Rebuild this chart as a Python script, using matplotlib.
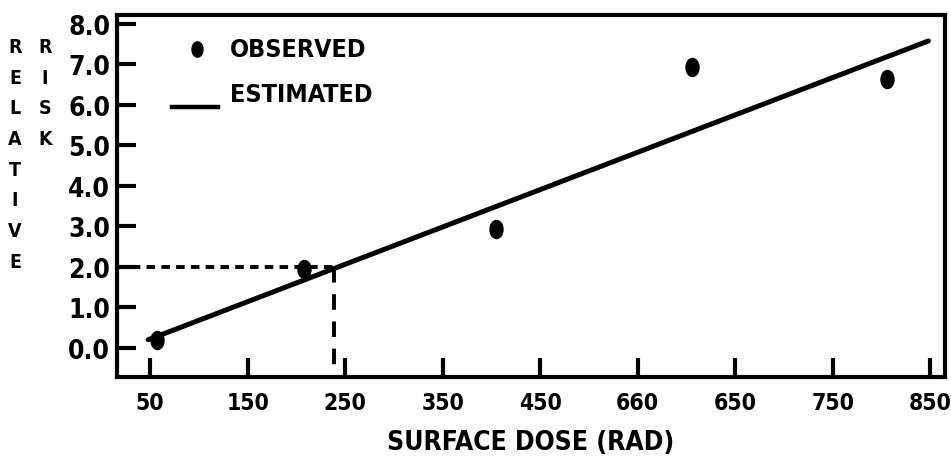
import matplotlib
matplotlib.use("Agg")
import matplotlib.pyplot as plt
from matplotlib.path import Path
from matplotlib.transforms import Affine2D

# Data
dose_obs = [57, 208, 405, 606, 806]
risk_obs = [0.2, 1.95, 2.94, 6.94, 6.64]
dose_fit = [48, 848]
risk_fit = [0.2, 7.58]
ref_dose = 239
ref_risk = 2.0
xticks = [50, 150, 250, 350, 450, 550, 650, 750, 850]
xticklabels = ["50", "150", "250", "350", "450", "660", "650", "750", "850"]
yticks = [0, 1, 2, 3, 4, 5, 6, 7, 8]
yticklabels = ["0.0", "1.0", "2.0", "3.0", "4.0", "5.0", "6.0", "7.0", "8.0"]

plt.rcParams['font.family'] = ["DejaVu Sans", "Liberation Sans"]
plt.rcParams['font.weight'] = 'bold'
plt.rcParams['font.stretch'] = 'condensed'

fig = plt.figure(figsize=(9.51, 4.64), dpi=100)
W, H = 951, 464
ax = fig.add_axes([117 / W, (H - 378) / H, (945 - 117) / W, (378 - 16) / H])

xmin, xmax = 16, 865
ymin, ymax = -0.72, 8.22
ax.set_xlim(xmin, xmax)
ax.set_ylim(ymin, ymax)

marker = Path.unit_circle().transformed(Affine2D().scale(0.72, 1.0))

ax.plot(dose_fit, risk_fit, color="black", lw=3.6, solid_capstyle="round")
ax.plot(dose_obs, risk_obs, linestyle="none", marker=marker, markersize=13,
        color="black")
# reference dashed lines
ax.plot([xmin, ref_dose], [ref_risk, ref_risk], color="black", lw=2.8,
        dashes=(2.2, 1.6))
ax.plot([ref_dose, ref_dose], [ref_risk, ymin], color="black", lw=2.8,
        dashes=(4, 3))

for s in ax.spines.values():
    s.set_linewidth(3)
ax.set_xticks(xticks)
ax.set_xticklabels(xticklabels)
ax.set_yticks(yticks)
ax.set_yticklabels(yticklabels)
ax.tick_params(direction="in", length=14, width=3, labelsize=19, pad=5)
ax.tick_params(axis="x", pad=10, labelsize=16.5)
for lab in ax.get_xticklabels() + ax.get_yticklabels():
    lab.set_fontweight("bold")

ax.set_xlabel("SURFACE DOSE (RAD)", fontsize=19, fontweight="bold", labelpad=11)

# stacked vertical y-label
fig.text(15 / W, 1 - 38 / H, "\n".join("RELATIVE"), ha="center", va="top",
         fontsize=14, fontweight="bold", linespacing=1.78)
fig.text(45 / W, 1 - 38 / H, "\n".join("RISK"), ha="center", va="top",
         fontsize=14, fontweight="bold", linespacing=1.78)

# legend drawn manually
ax.plot([98], [7.38], linestyle="none", marker=marker, markersize=11, color="black")
ax.text(132, 7.38, "OBSERVED", fontsize=18, fontweight="bold", va="center", ha="left")
ax.plot([72, 120], [5.95, 5.95], color="black", lw=3.2)
ax.text(132, 6.27, "ESTIMATED", fontsize=18, fontweight="bold", va="center", ha="left")

fig.savefig("out.png", dpi=100)
